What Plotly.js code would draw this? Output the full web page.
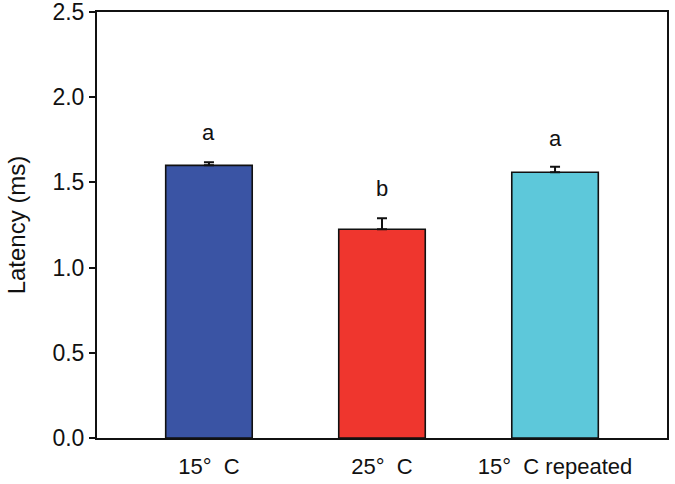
<!DOCTYPE html>
<html>
<head>
<meta charset="utf-8">
<script src="https://cdn.plot.ly/plotly-3.0.1.min.js"></script>
<style>html,body{margin:0;padding:0;background:#fff}#chart{width:675px;height:484px}</style>
</head>
<body>
<div id="chart"></div>
<script>
const categories = ["15°  C", "25°  C", "15°  C repeated"];
const latency = [1.60, 1.225, 1.56];
const errors = [0.018, 0.065, 0.032];
const groupLetters = ["a", "b", "a"];
const letterHeights = [1.79, 1.467, 1.76];
const barColors = ["#3A54A4", "#EF362E", "#5DC8DA"];
const yTicks = [0, 0.5, 1.0, 1.5, 2.0, 2.5];

const trace = {
  type: "bar",
  x: categories,
  y: latency,
  width: 0.5,
  marker: {color: barColors, line: {color: "#111", width: 1.6}},
  error_y: {type: "data", symmetric: false, array: errors, arrayminus: errors.map(() => 0),
            color: "#111", thickness: 2, width: 5},
  hoverinfo: "none"
};

const annotations = groupLetters.map((t, i) => ({
  x: categories[i], y: letterHeights[i], xref: "x", yref: "y",
  text: t, showarrow: false, font: {family: "Liberation Sans, Arial, sans-serif", size: 22, color: "#111"}
}));

const layout = {
  width: 675, height: 484,
  margin: {l: 97, r: 8, t: 12, b: 46},
  paper_bgcolor: "#fff", plot_bgcolor: "#fff",
  showlegend: false,
  font: {family: "Liberation Sans, Arial, sans-serif", size: 23, color: "#111"},
  xaxis: {
    type: "category", range: [-0.647, 2.647],
    showline: true, linecolor: "#111", linewidth: 2, mirror: true,
    ticks: "", showgrid: false, zeroline: false,
    tickfont: {size: 22}, ticklabelstandoff: 8
  },
  yaxis: {
    range: [0, 2.5], tickvals: yTicks, ticktext: yTicks.map(v => v.toFixed(1)),
    showline: true, linecolor: "#111", linewidth: 2, mirror: true,
    ticks: "outside", ticklen: 6, tickwidth: 2, tickcolor: "#111",
    showgrid: false, zeroline: false, ticklabeloverflow: "allow",
    tickfont: {size: 23},
    title: {text: "Latency (ms)", font: {size: 24}, standoff: 20}
  },
  annotations: annotations
};

Plotly.newPlot("chart", [trace], layout, {displayModeBar: false, staticPlot: true});
</script>
</body>
</html>
